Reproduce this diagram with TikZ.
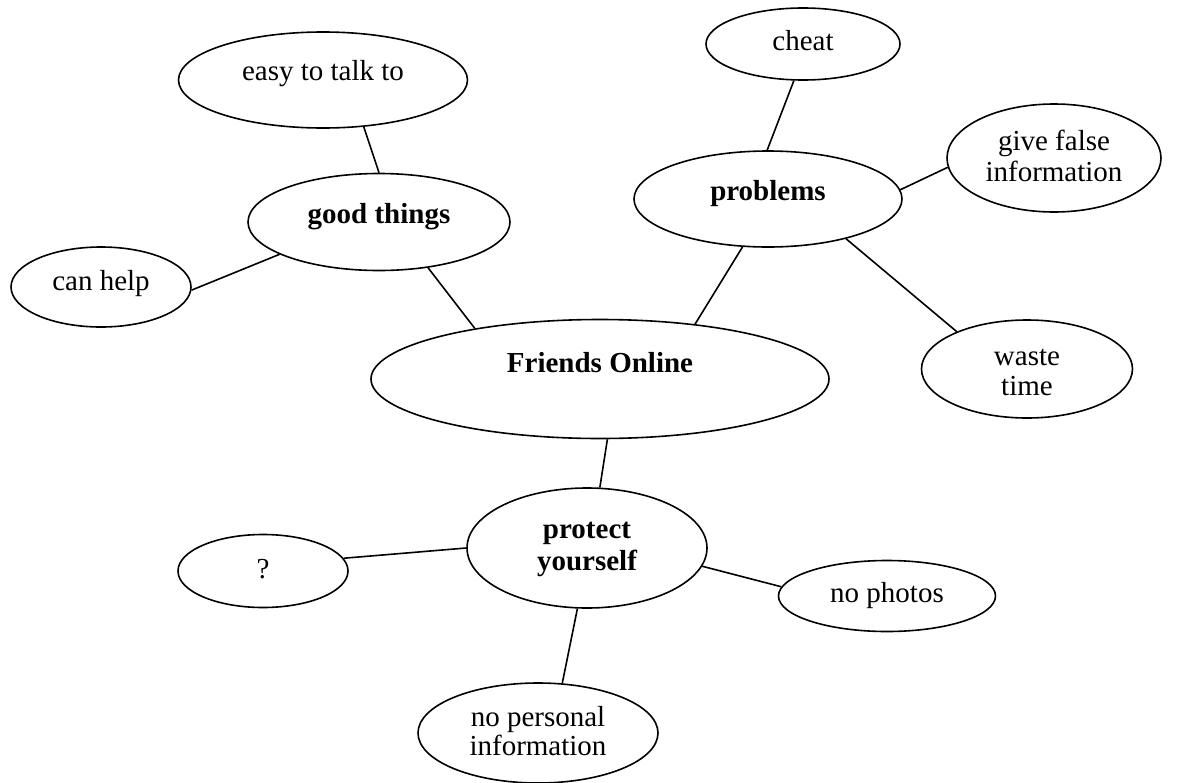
\documentclass[tikz,border=0pt]{standalone}
\usepackage{fontspec}
\setmainfont{Liberation Serif}
\usetikzlibrary{shapes.geometric}
\begin{document}
\begin{tikzpicture}[x=0.5pt,y=-0.5pt,
  bub/.style={ellipse,draw,line width=0.8pt,inner sep=0pt},
  txt/.style={anchor=base,inner sep=0pt,font=\fontsize{14.5}{17}\selectfont},
  btxt/.style={anchor=base,inner sep=0pt,font=\fontsize{14.5}{17}\selectfont\bfseries},
  link/.style={line width=0.8pt}]
\useasboundingbox (0,0) rectangle (1189,782);

% bubbles
\node[bub,minimum width=144.5pt,minimum height=48pt] (easy) at (323,80) {};
\node[bub,minimum width=131pt,minimum height=48.5pt] (good) at (379,222) {};
\node[bub,minimum width=90pt,minimum height=40pt] (canhelp) at (101,287) {};
\node[bub,minimum width=97pt,minimum height=36pt] (cheat) at (803,44) {};
\node[bub,minimum width=134pt,minimum height=48pt] (problems) at (768,199) {};
\node[bub,minimum width=107pt,minimum height=54pt] (givefalse) at (1054,158) {};
\node[bub,minimum width=105.5pt,minimum height=49pt] (waste) at (1027,369) {};
\node[bub,minimum width=229pt,minimum height=59.5pt] (friends) at (600,379) {};
\node[bub,minimum width=120pt,minimum height=60pt] (protect) at (587,548) {};
\node[bub,minimum width=85pt,minimum height=36.5pt] (q) at (263,571) {};
\node[bub,minimum width=108.5pt,minimum height=35.5pt] (nophotos) at (887,596) {};
\node[bub,minimum width=120pt,minimum height=50pt] (nopersonal) at (538,733) {};

% texts
\node[txt] (easyT) at (easy.center) {easy to talk to};
\node[btxt] (goodT) at ([yshift=-0.5pt]good.center) {good things};
\node[txt] (canhelpT) at ([yshift=-1.5pt]canhelp.center) {can help};
\node[txt] (cheatT) at ([yshift=-3pt]cheat.center) {cheat};
\node[btxt] (problemsT) at ([yshift=-0.5pt]problems.center) {problems};
\node[txt] (givefalseA) at ([yshift=4pt]givefalse.center) {give false};
\node[txt] (givefalseB) at ([yshift=-11.5pt]givefalse.center) {information};
\node[txt] (wasteA) at ([yshift=2pt]waste.center) {waste};
\node[txt] (wasteB) at ([yshift=-13pt]waste.center) {time};
\node[btxt] (friendsT) at ([yshift=3.5pt]friends.center) {Friends Online};
\node[btxt] (protectA) at ([yshift=5pt]protect.center) {protect};
\node[btxt] (protectB) at ([yshift=-11pt]protect.center) {yourself};
\node[txt] (qT) at ([yshift=-3.5pt]q.center) {?};
\node[txt] (nophotosT) at ([yshift=-3pt]nophotos.center) {no photos};
\node[txt] (nopersonalA) at ([yshift=3.5pt]nopersonal.center) {no personal};
\node[txt] (nopersonalB) at ([yshift=-11pt]nopersonal.center) {information};

% connectors
\draw[link] (good.90) -- (easy.-49.6);
\draw[link] (good.198.4) -- (canhelp.-2);
\draw[link] (good.-43.2) -- (friends.158.1);
\draw[link] (problems.91.2) -- (cheat.-104);
\draw[link] (problems.4.9) -- (givefalse.185);
\draw[link] (problems.-118.9) -- (friends.30.3);
\draw[link] (problems.-27.1) -- (waste.152.1);
\draw[link] (friends.-83.5) -- (protect.78.7);
\draw[link] (protect.180) -- (q.9.2);
\draw[link] (protect.-9.3) -- (nophotos.175.7);
\draw[link] (protect.-99.3) -- (nopersonal.64.7);
\end{tikzpicture}
\end{document}
